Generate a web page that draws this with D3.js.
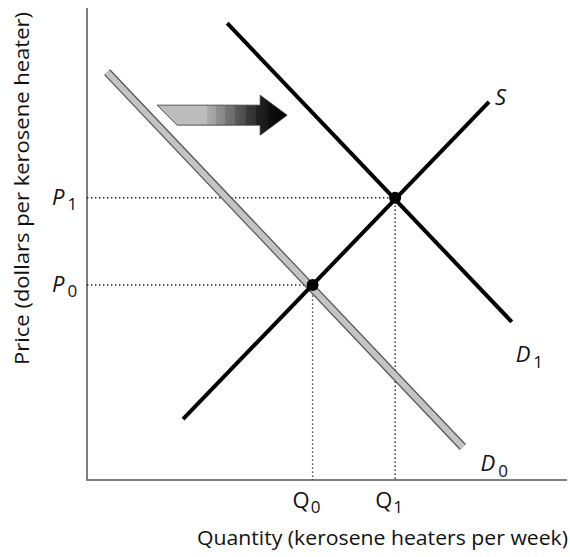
<!DOCTYPE html>
<html><head><meta charset="utf-8">
<script src="https://cdn.jsdelivr.net/npm/d3@7"></script>
<style>body{margin:0;background:#fff}svg{display:block}</style>
</head><body>
<script>
// Data (abstract units: quantity 0..10, price 0..10)
const demand0 = [{q:0.42,p:8.64},{q:7.83,p:0.70}];
const demand1 = [{q:2.92,p:9.68},{q:8.85,p:3.35}];
const supply  = [{q:2.00,p:1.29},{q:8.375,p:8.01}];
const equilibria = [{q:4.70,p:4.13,pl:"0",ql:"0"},{q:6.42,p:5.98,pl:"1",ql:"1"}];
const curveLabels = [
  {name:"S",sub:"",q:8.5,p:7.95},
  {name:"D",sub:"1",q:8.93,p:2.5},
  {name:"D",sub:"0",q:8.2,p:0.2}
];
const shiftArrow = {q0:1.46,q1:4.17,p:7.73};
const xTitle = "Quantity (kerosene heaters per week)";
const yTitle = "Price (dollars per kerosene heater)";

const W=570,H=557;
const svg=d3.select("body").append("svg").attr("width",W).attr("height",H);
const x=d3.scaleLinear().domain([0,10]).range([87,567]);
const y=d3.scaleLinear().domain([0,10]).range([480,8]);
const font="'Open Sans', 'DejaVu Sans', sans-serif";

// axes
svg.append("path").attr("d",`M${x(0)},${y(10)}V${y(0)}H${x(10)}`)
  .attr("fill","none").attr("stroke","#555").attr("stroke-width",1.5);

// dotted guides
equilibria.forEach(e=>{
  svg.append("path").attr("d",`M${x(0)},${y(e.p)}H${x(e.q)}V${y(0)}`)
   .attr("fill","none").attr("stroke","#222").attr("stroke-width",1.4)
   .attr("stroke-dasharray","1.4,2.6");
});

const line=d3.line().x(d=>x(d.q)).y(d=>y(d.p));
// D0 gray with outline
svg.append("path").attr("d",line(demand0)).attr("stroke","#555").attr("stroke-width",8.5).attr("fill","none");
svg.append("path").attr("d",line(demand0)).attr("stroke","#c4c4c4").attr("stroke-width",6).attr("fill","none");
svg.append("path").attr("d",line(demand1)).attr("stroke","#000").attr("stroke-width",4).attr("fill","none");
svg.append("path").attr("d",line(supply)).attr("stroke","#000").attr("stroke-width",4).attr("fill","none");

// equilibrium points
svg.selectAll("circle.eq").data(equilibria).join("circle")
  .attr("cx",d=>x(d.q)).attr("cy",d=>y(d.p)).attr("r",6).attr("fill","#000");

// arrow with gradient
const defs=svg.append("defs");
const grad=defs.append("linearGradient").attr("id","ag").attr("gradientUnits","userSpaceOnUse")
  .attr("x1",x(shiftArrow.q0)).attr("x2",x(shiftArrow.q1)).attr("y1",0).attr("y2",0);
const stops=[[0,"#bcbcbc"],[0.38,"#bcbcbc"],[0.38,"#acacac"],[0.45,"#a0a0a0"],[0.45,"#929292"],[0.52,"#888"],[0.52,"#777"],[0.6,"#6c6c6c"],[0.6,"#5a5a5a"],[0.68,"#4c4c4c"],[0.68,"#3c3c3c"],[0.76,"#303030"],[0.76,"#222"],[0.85,"#181818"],[0.85,"#111"],[1,"#000"]];
stops.forEach(s=>grad.append("stop").attr("offset",s[0]).attr("stop-color",s[1]));
{
  const x0=x(shiftArrow.q0), x1=x(shiftArrow.q1), yc=y(shiftArrow.p);
  const hb=10, hh=20, hl=27;
  const pts=[[x0,yc-hb],[x1-hl,yc-hb],[x1-hl,yc-hh],[x1,yc],[x1-hl,yc+hh],[x1-hl,yc+hb],[x0+20,yc+hb]];
  svg.append("path").attr("d","M"+pts.map(p=>p.join(",")).join("L")+"Z")
    .attr("fill","url(#ag)").attr("stroke","#333").attr("stroke-width",0.8);
}

// curve labels
curveLabels.forEach(c=>{
  const t=svg.append("text").attr("x",x(c.q)).attr("y",y(c.p)).attr("font-family",font)
    .attr("font-size",22).attr("font-style","italic").attr("fill","#111");
  t.append("tspan").text(c.name);
  if(c.sub) t.append("tspan").attr("font-size",17).attr("font-style","normal").attr("dx",3).attr("dy",6).text(c.sub);
});

// price labels
equilibria.forEach(e=>{
  const t=svg.append("text").attr("x",52).attr("y",y(e.p)+7).attr("font-family",font)
    .attr("font-size",22).attr("fill","#111");
  t.append("tspan").attr("font-style","italic").text("P");
  t.append("tspan").attr("font-size",17).attr("dx",3).attr("dy",5).text(e.pl);
});
// quantity labels
equilibria.forEach(e=>{
  const t=svg.append("text").attr("x",x(e.q)-20).attr("y",508).attr("font-family",font)
    .attr("font-size",22).attr("fill","#111");
  t.append("tspan").text("Q");
  t.append("tspan").attr("font-size",17).attr("dx",1).attr("dy",5).text(e.ql);
});

// axis titles
svg.append("text").attr("x",197).attr("y",545)
  .attr("textLength",371).attr("lengthAdjust","spacingAndGlyphs")
  .attr("font-family",font).attr("font-size",20).attr("fill","#111").text(xTitle);
svg.append("text").attr("transform","translate(29,365) rotate(-90)")
  .attr("textLength",353).attr("lengthAdjust","spacingAndGlyphs")
  .attr("font-family",font).attr("font-size",20).attr("fill","#111").text(yTitle);
</script>
</body></html>
